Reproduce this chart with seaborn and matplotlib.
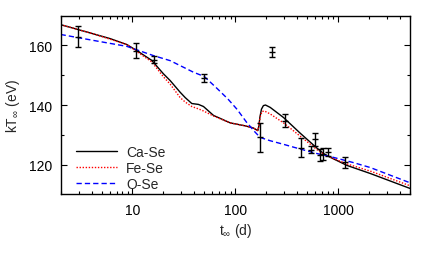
import numpy as np
import pandas as pd
import matplotlib
matplotlib.use("Agg")
import matplotlib.pyplot as plt
from matplotlib.ticker import FixedLocator, FixedFormatter, NullFormatter
import seaborn as sns

# observed points: time (d), kT (eV), error (eV)
obs_t   = [2.94, 10.9, 16.1, 49.9, 175, 227, 302, 437, 545, 601, 673, 714, 800, 1178]
obs_kT  = [163.0, 158.3, 155.2, 149.1, 129.1, 157.8, 134.7, 125.6, 125.0, 128.5, 123.2, 123.5, 124.2, 120.7]
obs_err = [3.4, 2.5, 1.1, 1.4, 4.8, 1.7, 2.2, 3.2, 1.2, 2.2, 2.0, 2.0, 1.2, 1.7]

# model curves
ca_t  = [2.0, 4.17, 6.07, 8.82, 11.0, 15.4, 20.0, 23.3, 29.1, 32.6, 37.8, 43.9, 49.1, 61.5,
         89.4, 125, 150, 162, 166, 170, 174, 180, 188, 197, 219, 295, 430, 625, 750, 906,
         1224, 2061, 5000]
ca_kT = [167.0, 163.9, 162.3, 160.3, 158.3, 155.0, 150.5, 148.2, 144.3, 142.5, 140.5, 140.2,
         139.5, 136.5, 134.0, 133.0, 132.3, 131.6, 131.4, 133.0, 136.0, 138.6, 139.8, 140.0,
         139.2, 135.8, 130.5, 125.5, 123.3, 121.9, 119.7, 117.0, 112.0]

fe_t  = [2.0, 4.17, 8.82, 11.0, 15.4, 20.0, 23.3, 29.1, 32.6, 37.8, 43.9, 49.1, 61.5, 89.4,
         125, 150, 162, 166, 170, 175, 182, 192, 219, 295, 430, 625, 750, 906, 1224, 2061, 5000]
fe_kT = [167.0, 163.9, 160.3, 158.0, 154.5, 149.5, 147.0, 142.5, 141.0, 139.5, 138.7, 138.0,
         136.3, 134.0, 133.0, 132.3, 131.6, 131.4, 133.0, 136.0, 137.8, 138.0, 137.0, 134.0,
         129.5, 125.0, 123.2, 122.0, 120.2, 117.8, 112.9]

o_t  = [2.0, 4.17, 8.82, 16.0, 23.3, 39.3, 49.9, 66.4, 85, 104.5, 129, 155, 175, 219, 295,
        430, 625, 906, 1397, 2061, 5000]
o_kT = [163.7, 161.7, 159.7, 156.6, 154.9, 151.0, 149.6, 145.6, 142.0, 138.5, 134.2, 131.0,
        129.1, 128.0, 126.8, 125.2, 123.7, 122.4, 120.7, 119.0, 113.9]

labels = ["Ca-Se", "Fe-Se", "O-Se"]
xticks = [10, 100, 1000]
yticks = [120, 140, 160]

sns.set_theme(style="ticks")
plt.rcParams.update({
    "font.family": ["Liberation Sans", "DejaVu Sans"],
    "font.size": 10,
    "mathtext.fontset": "custom",
    "mathtext.rm": "Liberation Sans",
    "mathtext.it": "Liberation Sans:italic",
    "axes.linewidth": 1.0,
    "axes.edgecolor": "black",
})

fig = plt.figure(figsize=(4.36, 2.55), dpi=100)
ax = fig.add_axes([0.139, 0.234, 0.801, 0.7005])

curves = [
    (ca_t, ca_kT, "black", "-"),
    (fe_t, fe_kT, "red", (0, (1, 1.2))),
    (o_t, o_kT, "blue", (0, (3.8, 2.2))),
]
for (t, kT, col, ls), lab in zip(curves, labels):
    df = pd.DataFrame({"t": t, "kT": kT})
    sns.lineplot(data=df, x="t", y="kT", ax=ax, color=col, linestyle=ls, lw=1.0,
                 estimator=None, sort=False, label=lab)

ax.errorbar(obs_t, obs_kT, yerr=obs_err, fmt="_", ms=4, mew=1, color="black",
            ecolor="black", elinewidth=1, capsize=2.2, capthick=1, zorder=5)

ax.set_xscale("log")
ax.set_xlim(2, 5000)
ax.set_ylim(110, 170)
ax.xaxis.set_major_locator(FixedLocator(xticks))
ax.xaxis.set_major_formatter(FixedFormatter([str(v) for v in xticks]))
ax.xaxis.set_minor_formatter(NullFormatter())
ax.yaxis.set_major_locator(FixedLocator(yticks))
ax.yaxis.set_minor_locator(FixedLocator([130, 150]))
ax.tick_params(which="both", direction="in", top=True, right=True, colors="black",
               labelsize=10)
ax.tick_params(which="major", length=4.3, width=0.8, pad=6)
ax.tick_params(which="minor", length=2.2, width=0.8)
ax.tick_params(axis="x", which="major", pad=6)

ax.set_xlabel(r"t$_{\infty}$ (d)", fontsize=10, labelpad=3)
ax.set_ylabel(r"kT$_{\infty}$ (eV)", fontsize=10, labelpad=5)

ax.legend(loc="lower left", bbox_to_anchor=(0.045, 0.02), frameon=False, fontsize=10,
          handlelength=2.9, handletextpad=0.7, labelspacing=0.15, borderpad=0,
          borderaxespad=0)

fig.savefig("out.png", dpi=100)
